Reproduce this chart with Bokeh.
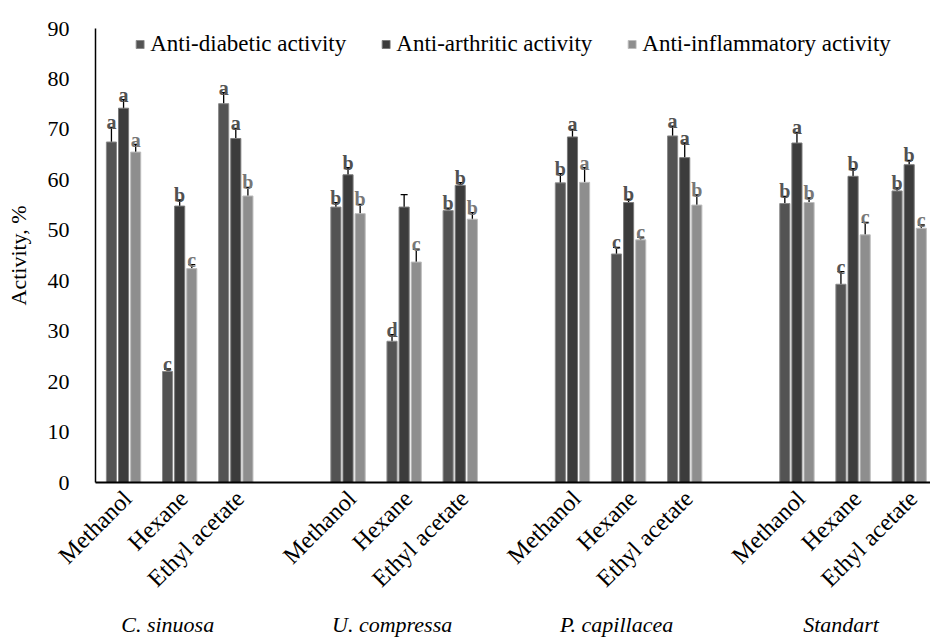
import math
from bokeh.plotting import figure
from bokeh.models import (ColumnDataSource, Range1d, FixedTicker, Legend, LegendItem,
                          Whisker, TeeHead, LinearAxis)
from bokeh.core.properties import value
from bokeh.embed import file_html
from bokeh.resources import INLINE

# ---------------- data ----------------
groups = ["C. sinuosa", "U. compressa", "P. capillacea", "Standart"]
solvents = ["Methanol", "Hexane", "Ethyl acetate"]
series_names = ["Anti-diabetic activity", "Anti-arthritic activity", "Anti-inflammatory activity"]

diabetic = [67.5, 22.0, 75.1, 54.6, 28.0, 53.9, 59.4, 45.3, 68.7, 55.3, 39.3, 57.8]
diabetic_err = [2.9, 0.5, 2.2, 0.9, 1.3, 0.5, 1.85, 1.3, 1.95, 1.4, 2.5, 0.6]
diabetic_letters = ["a", "c", "a", "b", "d", "b", "b", "c", "a", "b", "c", "b"]

arthritic = [74.2, 54.8, 68.2, 61.0, 54.6, 58.9, 68.5, 55.5, 64.4, 67.3, 60.7, 63.0]
arthritic_err = [1.7, 1.2, 2.0, 1.4, 2.45, 0.55, 1.5, 0.65, 2.9, 2.1, 1.5, 0.85]
arthritic_letters = ["a", "b", "a", "b", "", "b", "a", "b", "a", "a", "b", "b"]

inflam = [65.5, 42.4, 56.8, 53.3, 43.7, 52.2, 59.5, 48.1, 55.0, 55.5, 49.1, 50.4]
inflam_err = [1.5, 0.8, 1.7, 1.85, 2.55, 1.3, 2.9, 0.55, 2.0, 0.9, 2.45, 0.65]
inflam_letters = ["a", "c", "b", "b", "c", "b", "a", "c", "b", "b", "c", "c"]

y_ticks = [0, 10, 20, 30, 40, 50, 60, 70, 80, 90]

# ---------------- styling / layout ----------------
FONT = "Liberation Serif"
fills = ["#535353", "#3c3c3c", "#8e8e8e"]
edges = ["#8a8a8a", "#7a7a7a", "#bdbdbd"]
letter_colors = ["#555555", "#505050", "#777777"]
offsets = [-0.216, 0.0, 0.216]
bar_w = 0.18
slots_per_group = len(solvents) + 1

LEFT = 95
FRAME_W = 930 - LEFT

slots = [g * slots_per_group + s for g in range(len(groups)) for s in range(len(solvents))]
slot_labels = [solv for g in groups for solv in solvents]
group_x = [g * slots_per_group + 1 for g in range(len(groups))]

XS, XE = -0.5, 14.38
scale = (XE - XS) / FRAME_W   # data units per pixel

p = figure(title=None, width=930, height=639, x_range=Range1d(XS, XE), y_range=Range1d(0, 90),
           output_backend="svg", toolbar_location=None,
           min_border_left=LEFT, min_border_right=0, min_border_top=28, min_border_bottom=0)

# shifted ranges only used to nudge the label axes horizontally
p.extra_x_ranges = {
    "solv": Range1d(XS - 4 * scale, XE - 4 * scale),
    "grp": Range1d(XS + 12 * scale, XE + 12 * scale),
}

p.xgrid.grid_line_color = None
p.ygrid.grid_line_color = None
p.outline_line_color = None

all_vals = [diabetic, arthritic, inflam]
all_errs = [diabetic_err, arthritic_err, inflam_err]
all_letters = [diabetic_letters, arthritic_letters, inflam_letters]

renderers = []
for k in range(3):
    xs = [s + offsets[k] for s in slots]
    src = ColumnDataSource(dict(
        x=xs, top=all_vals[k],
        upper=[v + e for v, e in zip(all_vals[k], all_errs[k])],
        lower=[v - e for v, e in zip(all_vals[k], all_errs[k])],
        letter=all_letters[k]))
    r = p.vbar(x="x", top="top", width=bar_w, bottom=0, source=src,
               fill_color=fills[k], line_color=edges[k], line_width=1)
    renderers.append(r)
    w = Whisker(base="x", upper="upper", lower="lower", source=src,
                line_color="black", line_width=1.3,
                upper_head=TeeHead(size=7, line_color="black", line_width=1.3),
                lower_head=TeeHead(size=7, line_color="black", line_width=1.3))
    p.add_layout(w)
    p.text(x="x", y="upper", text="letter", source=src, text_align="center",
           text_baseline="alphabetic", y_offset=-5,
           text_font=value(FONT), text_font_style="bold", text_font_size="20px",
           text_color=letter_colors[k])

# y axis
p.yaxis.ticker = FixedTicker(ticks=y_ticks)
p.yaxis.major_tick_line_color = None
p.yaxis.minor_tick_line_color = None
p.yaxis.axis_line_color = "black"
p.yaxis.axis_line_width = 1.5
p.yaxis.major_label_text_font = FONT
p.yaxis.major_label_text_font_size = "22px"
p.yaxis.major_label_text_color = "black"
p.yaxis.major_label_standoff = 20
p.yaxis.axis_label = "Activity, %"
p.yaxis.axis_label_text_font = FONT
p.yaxis.axis_label_text_font_size = "22px"
p.yaxis.axis_label_text_font_style = "normal"
p.yaxis.axis_label_text_color = "black"
p.yaxis.axis_label_standoff = 14

# x axis with the rotated solvent names
xa = p.xaxis[0]
xa.x_range_name = "solv"
xa.ticker = FixedTicker(ticks=slots)
xa.major_label_overrides = {s: lab for s, lab in zip(slots, slot_labels)}
xa.major_tick_line_color = None
xa.minor_tick_line_color = None
xa.axis_line_color = "black"
xa.axis_line_width = 2
xa.major_label_orientation = math.pi / 4
xa.major_label_text_font = FONT
xa.major_label_text_font_size = "24px"
xa.major_label_text_color = "black"
xa.major_label_standoff = 6

# second axis below with the species names
ga = LinearAxis(x_range_name="grp", ticker=FixedTicker(ticks=group_x),
                major_label_overrides={gx: name for gx, name in zip(group_x, groups)},
                axis_line_color=None, major_tick_line_color=None, minor_tick_line_color=None,
                major_label_text_font=FONT, major_label_text_font_size="22px",
                major_label_text_font_style="italic", major_label_text_color="black",
                major_label_standoff=2)
p.add_layout(ga, "below")

legend = Legend(items=[LegendItem(label=n, renderers=[r]) for n, r in zip(series_names, renderers)],
                orientation="horizontal", location="top_center",
                glyph_width=10, glyph_height=10, label_standoff=6, spacing=34,
                label_text_font=FONT, label_text_font_size="23px", label_text_color="black",
                background_fill_alpha=0, border_line_color=None, padding=4, margin=3)
p.add_layout(legend)

open("out.html", "w").write(file_html(p, INLINE))
